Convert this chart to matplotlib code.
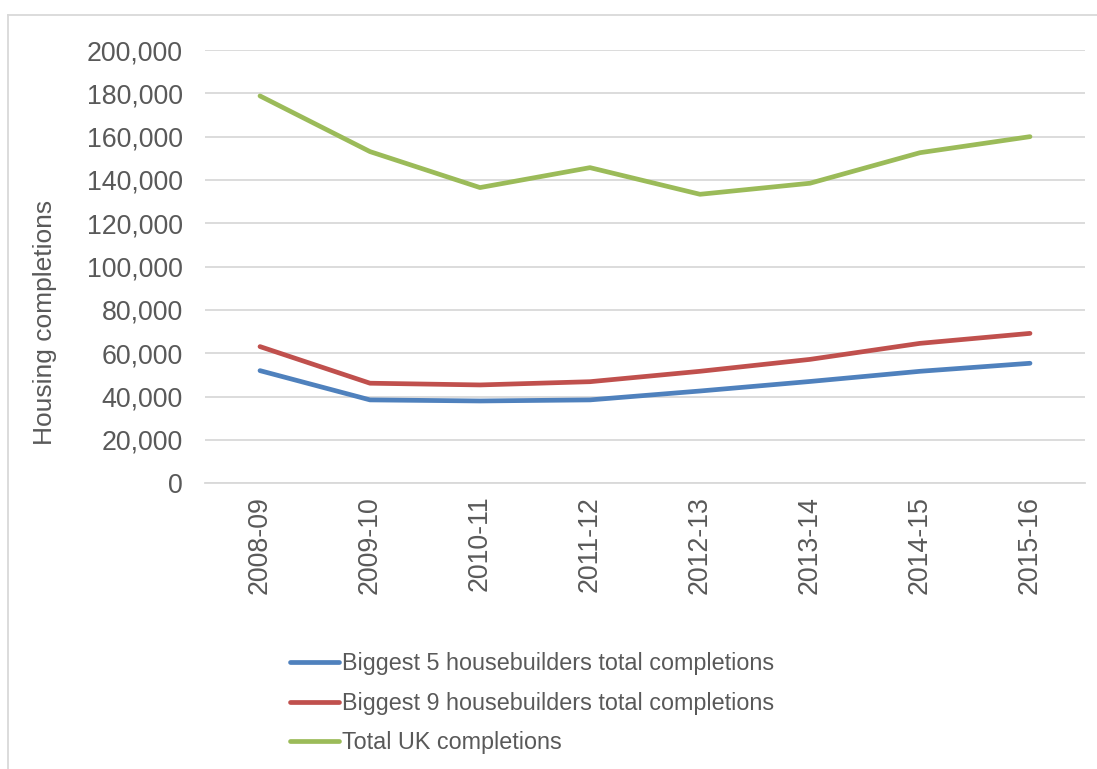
import matplotlib.pyplot as plt
from matplotlib.lines import Line2D
from matplotlib.ticker import FuncFormatter

years = ['2008-09', '2009-10', '2010-11', '2011-12',
         '2012-13', '2013-14', '2014-15', '2015-16']
biggest_5 = [52000, 38500, 38000, 38500, 42600, 47000, 51700, 55400]
biggest_9 = [63100, 46200, 45400, 46900, 51700, 57200, 64600, 69200]
total_uk = [178800, 153100, 136500, 145700, 133400, 138500, 152600, 160000]

series_names = ['Biggest 5 housebuilders total completions',
                'Biggest 9 housebuilders total completions',
                'Total UK completions']
colors = ['#4f81bd', '#c0504d', '#9bbb59']

plt.rcParams['font.family'] = ['Liberation Sans', 'DejaVu Sans']
text_color = '#595959'

W, H = 1097, 769
fig = plt.figure(figsize=(W / 100, H / 100), dpi=100)
ax = fig.add_axes([205 / W, 1 - 483.3 / H, 880 / W, 433.3 / H])

x = range(len(years))
for vals, name, c in zip([biggest_5, biggest_9, total_uk], series_names, colors):
    ax.plot(x, vals, color=c, linewidth=3.4, label=name,
            solid_capstyle='round', solid_joinstyle='round')

ax.set_xlim(-0.5, len(years) - 0.5)
ax.set_ylim(0, 200000)
ax.set_yticks(range(0, 200001, 20000))
ax.yaxis.set_major_formatter(FuncFormatter(lambda v, p: f'{int(v):,}'))
ax.set_xticks(list(x))
ax.set_xticklabels(years, rotation=90)

ax.grid(axis='y', color='#d9d9d9', linewidth=1.3)
ax.set_axisbelow(True)
for s in ['top', 'right', 'left']:
    ax.spines[s].set_visible(False)
ax.spines['bottom'].set_color('#d9d9d9')
ax.spines['bottom'].set_linewidth(1.3)
ax.tick_params(axis='both', length=0, labelsize=19.3, colors=text_color)
ax.tick_params(axis='y', pad=16)
ax.tick_params(axis='x', pad=9)

fig.text(45 / W, 1 - 322 / H, 'Housing completions', rotation=90,
         ha='center', va='center', fontsize=19, color=text_color)

leg = fig.legend(loc='upper left', bbox_to_anchor=(281 / W, 1 - 643 / H),
                 frameon=False, fontsize=16.8, handlelength=2.1,
                 handletextpad=0.12, labelspacing=0.7, borderaxespad=0)
for t in leg.get_texts():
    t.set_color(text_color)

# chart border (left and top only visible)
fig.add_artist(Line2D([8 / W, 8 / W], [0, 1 - 15 / H], transform=fig.transFigure,
                      color='#d9d9d9', linewidth=1.3))
fig.add_artist(Line2D([8 / W, 1], [1 - 15 / H, 1 - 15 / H], transform=fig.transFigure,
                      color='#d9d9d9', linewidth=1.3))

fig.savefig('out.png', dpi=100)
